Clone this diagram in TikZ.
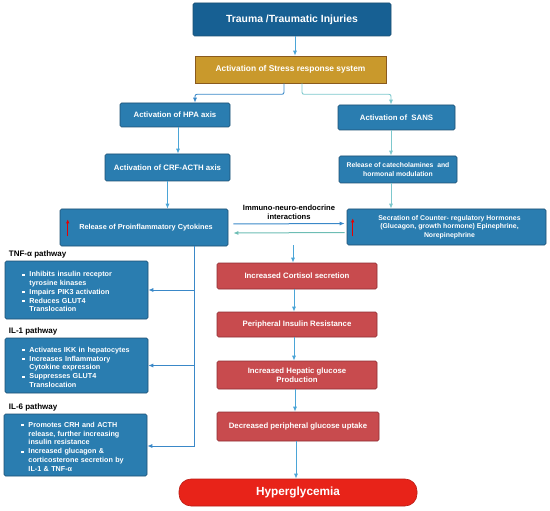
\documentclass[tikz,border=0pt]{standalone}
\usepackage{fontspec}
\setmainfont{Liberation Sans}
\usepackage{tikz}
\usetikzlibrary{arrows.meta}
\usetikzlibrary{positioning}
\usetikzlibrary{calc}
\definecolor{boxblue}{HTML}{2A7DB0}
\definecolor{boxblueline}{HTML}{1C4F72}
\definecolor{traumablue}{HTML}{176093}
\definecolor{stressgold}{HTML}{C9992C}
\definecolor{stressline}{HTML}{8A5A1E}
\definecolor{boxred}{HTML}{C84B4E}
\definecolor{boxredline}{HTML}{8E2E32}
\definecolor{hyperred}{HTML}{E82319}
\definecolor{arrowblue}{HTML}{4BA5D7}
\definecolor{arrowteal}{HTML}{7DC8CD}
\definecolor{trunkblue}{HTML}{3A88C8}
\definecolor{backteal}{HTML}{6DBDB4}

\newcommand{\bulitem}[1]{\par\hangindent=7pt\hangafter=1\noindent\makebox[7pt][l]{\rule[0.25ex]{2.2pt}{2.2pt}}#1}

\begin{document}
\begin{tikzpicture}
    [
    x=1pt, y=-1pt, font=\bfseries\fontsize{7.8}{9}\selectfont, >={Latex[length=5pt,width=4pt]},
    %Kaesten
    box/.style={draw=boxblueline, fill=boxblue, text=white, rounded corners=1.5pt, align=center, inner sep=1pt, line width=0.6pt},
    redbox/.style={box, draw=boxredline, fill=boxred, minimum width=160pt},
    listbox/.style={box, text width=126pt, inner xsep=8.5pt, inner ysep=0pt, align=left, font=\bfseries\fontsize{7.2}{8.8}\selectfont},
    lbl/.style={inner sep=1pt, font=\bfseries\fontsize{8}{9}\selectfont},
    %Pfeile
    arr/.style={->, arrowblue, line width=0.9pt},
    tealarr/.style={->, arrowteal, line width=0.9pt},
    uparr/.style={-{Latex[length=4pt,width=3.5pt]}, red!90!black, line width=1pt}
    ]

    \useasboundingbox (0,0) rectangle (550,511);

    %obere Kette
    \node[box, fill=traumablue, minimum width=198pt, minimum height=33pt, font=\bfseries\fontsize{10.4}{12}\selectfont] (trauma) at (292,19.5) {Trauma /Traumatic Injuries};
    \node[box, draw=stressline, fill=stressgold, rounded corners=0pt, minimum width=191pt, minimum height=27pt, font=\bfseries\fontsize{8.4}{10}\selectfont] (stress) at (290.5,69.5) {Activation of Stress response system};
    \node[box, minimum width=110pt, minimum height=24pt] (hpa) at (175,115) {Activation of HPA axis};
    \node[box, minimum width=117pt, minimum height=25pt] (sans) at (396.5,117.5) {Activation of\ \ SANS};
    \node[box, minimum width=118pt, minimum height=27pt, font=\bfseries\fontsize{6.8}{9}\selectfont] (catechol) at (398,169.5) {Release of catecholamines\ \ and\\hormonal modulation};
    \node[box, minimum width=125pt, minimum height=27pt] (crf) at (167.5,167.5) {Activation of CRF-ACTH axis};
    \node[box, minimum width=168pt, minimum height=37pt, font=\bfseries\fontsize{7.3}{9}\selectfont] (cyto) at (144,227.5) {\hspace{4pt}Release of Proinflammatory Cytokines};
    \node[box, minimum width=199pt, minimum height=36pt, font=\bfseries\fontsize{6.9}{8.5}\selectfont] (secr) at (446.5,227) {\hspace{6pt}Secration of Counter- regulatory Hormones\\\hspace{6pt}(Glucagon, growth hormone) Epinephrine,\\\hspace{6pt}Norepinephrine};

    %rote Pfeile
    \draw[uparr] ([xshift=8pt]cyto.south west) ++(0,-10) -- ++(0,-17);
    \draw[uparr] ([xshift=6pt]secr.south west) ++(0,-9) -- ++(0,-18);

    %Wechselwirkung
    \node[inner sep=0pt, align=center, font=\bfseries\fontsize{7.6}{8.8}\selectfont] (inter) at (289,212.5) {Immuno-neuro-endocrine\\interactions};
    \draw[->, trunkblue, line width=1pt] ([xshift=5pt,yshift=3.5pt]cyto.east) -- ([xshift=-2pt,yshift=3.5pt]secr.west);
    \draw[->, backteal, line width=1pt] ([xshift=-2pt,yshift=-5.5pt]secr.west) -- ([xshift=5pt,yshift=-5.5pt]cyto.east);

    %Signalwege
    \node[listbox, minimum height=58pt] (tnf) at (76.5,290) {\leftskip=9pt\relax
      \bulitem{Inhibits insulin receptor\newline tyrosine kinases}
      \bulitem{Impairs PIK3 activation}
      \bulitem{Reduces GLUT4\newline Translocation}\par};
    \node[listbox, minimum height=55pt] (ilone) at (76.5,365.5) {\leftskip=9pt\relax
      \bulitem{Activates IKK in hepatocytes}
      \bulitem{Increases Inflammatory\newline Cytokine expression}
      \bulitem{Suppresses GLUT4\newline Translocation}\par};
    \node[listbox, minimum height=62pt] (ilsix) at (75.5,445) {\leftskip=9pt\relax
      \bulitem{Promotes CRH and ACTH\newline release, further increasing\newline insulin resistance}
      \bulitem{Increased glucagon \&\newline corticosterone secretion by\newline IL-1 \& TNF-α}\par};

    \node[lbl, above right=1pt and 3pt of tnf.north west] (tnflbl) {TNF-α pathway};
    \node[lbl, above right=1pt and 3pt of ilone.north west] (ilonelbl) {IL-1 pathway};
    \node[lbl, above right=1pt and 4pt of ilsix.north west] (ilsixlbl) {IL-6 pathway};

    %rechte Kette
    \node[redbox, minimum height=26pt] (cort) at (297,276) {Increased Cortisol secretion};
    \node[redbox, minimum height=25pt] (pir) at (297,324.5) {Peripheral Insulin Resistance};
    \node[redbox, minimum height=28pt] (hep) at (297,375) {Increased Hepatic glucose\\Production};
    \node[redbox, minimum width=162pt, minimum height=29pt] (dec) at (298,426.5) {Decreased peripheral glucose uptake};
    \node[box, draw=hyperred!80!black, fill=hyperred, rounded corners=12pt, minimum width=238pt, minimum height=27pt, font=\bfseries\fontsize{11.8}{14}\selectfont] (hyper) at (298,492.5) {Hyperglycemia};

    %Verbindungen oben
    \draw[arr] ([xshift=3pt]trauma.south) -- ([xshift=3pt]trauma.south |- stress.north);
    \draw[->, trunkblue, line width=0.9pt, rounded corners=2pt] ([xshift=-6.5pt]stress.south) -- ++(0,11) -| ([xshift=20pt]hpa.north);
    \draw[tealarr, rounded corners=2pt] ([xshift=11.5pt]stress.south) -- ++(0,11) -| ([xshift=-5.5pt]sans.north);
    \draw[arr] ([xshift=3pt]hpa.south) -- ([xshift=3pt]hpa.south |- crf.north);
    \draw[arr] (crf.south) -- (crf.south |- cyto.north);
    \draw[tealarr] ([xshift=-5.5pt]sans.south) -- ([xshift=-5.5pt]sans.south |- catechol.north);
    \draw[tealarr] ([xshift=-5.5pt]sans.south |- catechol.south) -- ([xshift=-5.5pt]sans.south |- secr.north);

    %Stamm links
    \coordinate (trunk) at ([xshift=50pt]cyto.south);
    \draw[->, trunkblue, line width=0.9pt] (trunk) |- ([yshift=-1pt]ilsix.east);
    \draw[->, trunkblue, line width=0.9pt] (trunk |- tnf.east) -- (tnf.east);
    \draw[->, trunkblue, line width=0.9pt] (trunk |- ilone.east) -- (ilone.east);

    %Verbindungen rechts
    \draw[arr] ([xshift=-4pt]cort.north |- secr.south) -- ([xshift=-4pt]cort.north);
    \draw[arr] ([xshift=-3pt]cort.south) -- ([xshift=-3pt]pir.north);
    \draw[arr] ([xshift=-3pt]pir.south) -- ([xshift=-3pt]hep.north);
    \draw[arr] ([xshift=-2pt]hep.south) -- ([xshift=-3pt]dec.north);
    \draw[arr] ([xshift=-2pt]dec.south) -- ([xshift=-2pt]dec.south |- hyper.north);
\end{tikzpicture}
\end{document}
